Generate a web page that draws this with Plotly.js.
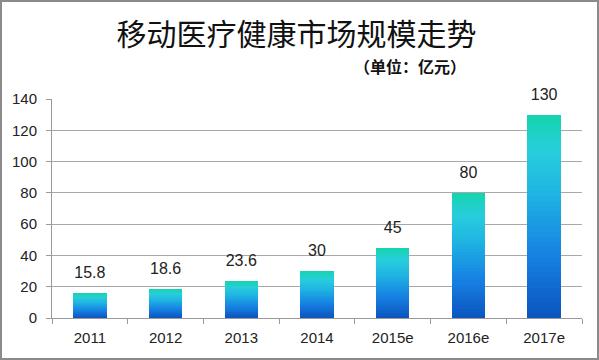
<!DOCTYPE html>
<html>
<head>
<meta charset="utf-8">
<script src="https://cdn.plot.ly/plotly-3.0.1.min.js"></script>
<style>
html,body{margin:0;padding:0;background:#fff;}
#frame{width:595px;height:356px;border:2px solid #8a8a8a;position:relative;overflow:hidden;}
#chart{position:absolute;left:-2px;top:-2px;width:599px;height:360px;}
</style>
</head>
<body>
<div id="frame"><div id="chart"></div></div>
<script>
const categories = ['2011','2012','2013','2014','2015e','2016e','2017e'];
const values = [15.8, 18.6, 23.6, 30, 45, 80, 130];
const valueLabels = ['15.8','18.6','23.6','30','45','80','130'];
const yTicks = [0,20,40,60,80,100,120,140];
const titleText = '移动医疗健康市场规模走势';
const subtitleText = '（单位：亿元）';

// gradient stops from bottom (0) to top (1)
const stops = [
  [0.00, [10, 84, 190]],
  [0.30, [22, 128, 226]],
  [0.60, [30, 178, 226]],
  [0.82, [40, 206, 220]],
  [1.00, [20, 212, 172]]
];
function colorAt(t){
  for(let i=0;i<stops.length-1;i++){
    const [t0,c0]=stops[i],[t1,c1]=stops[i+1];
    if(t<=t1){
      const f=(t-t0)/(t1-t0);
      const c=c0.map((v,k)=>Math.round(v+(c1[k]-v)*f));
      return 'rgb('+c.join(',')+')';
    }
  }
  return 'rgb('+stops[stops.length-1][1].join(',')+')';
}
const N = 40;
const traces = [];
for(let i=0;i<N;i++){
  traces.push({
    type:'bar', x:categories, y:values.map(v=>v/N),
    marker:{color:colorAt((i+0.5)/N), line:{width:0}},
    hoverinfo:'skip', showlegend:false
  });
}
traces.push({
  type:'scatter', mode:'markers+text', x:categories, y:values,
  marker:{size:16, opacity:0},
  text:valueLabels, textposition:'top center',
  textfont:{family:'Liberation Sans, Arial, sans-serif', size:16, color:'#222'},
  hoverinfo:'skip', showlegend:false, cliponaxis:false
});

const tickFont = {family:'Liberation Sans, Arial, sans-serif', size:15, color:'#222'};
const layout = {
  width:599, height:360,
  margin:{l:52, r:17, t:99, b:42},
  paper_bgcolor:'rgba(0,0,0,0)', plot_bgcolor:'rgba(0,0,0,0)',
  barmode:'stack', bargap:0.56,
  xaxis:{
    type:'category', showgrid:false, showline:true, linecolor:'#9a9a9a', linewidth:1,
    ticks:'outside', tickson:'boundaries', ticklen:5, tickcolor:'#9a9a9a',
    ticklabelstandoff:6, tickfont:tickFont
  },
  yaxis:{
    range:[0,140], tickvals:yTicks, showgrid:true, gridcolor:'#a8a8a8', gridwidth:1,
    showline:true, linecolor:'#9a9a9a', linewidth:1, zeroline:false,
    ticks:'outside', ticklen:5, tickcolor:'#9a9a9a',
    ticklabelstandoff:6, tickfont:tickFont
  },
  title:{
    text:titleText, x:0.495, xanchor:'center', y:0.905, yanchor:'middle', yref:'container',
    font:{family:'Noto Sans CJK SC, sans-serif', size:30, color:'#111'}
  },
  annotations:[{
    text:'<b>'+subtitleText+'</b>', xref:'paper', yref:'paper', x:0.785, y:1.15,
    xanchor:'right', yanchor:'middle', showarrow:false,
    font:{family:'Noto Sans CJK SC, sans-serif', size:16, color:'#111'}
  }]
};
Plotly.newPlot('chart', traces, layout, {displayModeBar:false, staticPlot:true});
</script>
</body>
</html>
